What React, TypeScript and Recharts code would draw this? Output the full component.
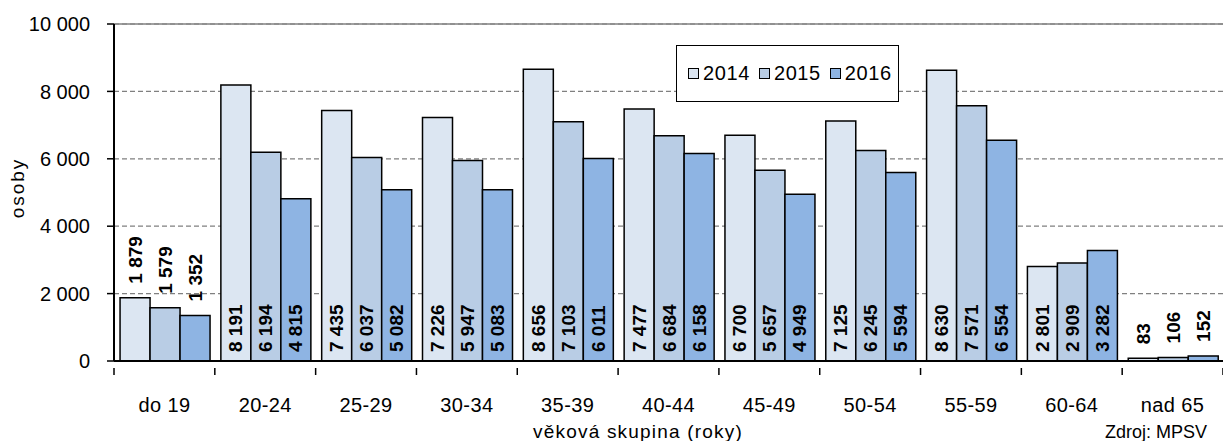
import React from 'react';
import { BarChart, Bar, XAxis, YAxis, CartesianGrid, ReferenceLine, LabelList } from 'recharts';

if (typeof document !== 'undefined') {
  document.body.style.margin = '0';
}

const categories = ['do 19', '20-24', '25-29', '30-34', '35-39', '40-44', '45-49', '50-54', '55-59', '60-64', 'nad 65'];
const values2014 = [1879, 8191, 7435, 7226, 8656, 7477, 6700, 7125, 8630, 2801, 83];
const values2015 = [1579, 6194, 6037, 5947, 7103, 6684, 5657, 6245, 7571, 2909, 106];
const values2016 = [1352, 4815, 5082, 5083, 6011, 6158, 4949, 5594, 6554, 3282, 152];
const seriesNames = ['2014', '2015', '2016'];
const seriesColors = ['#dce6f2', '#b9cde5', '#8eb4e3'];
const yTicks = [0, 2000, 4000, 6000, 8000, 10000];

const data = categories.map((c, i) => ({
  cat: c,
  s2014: values2014[i],
  s2015: values2015[i],
  s2016: values2016[i],
}));
const keys = ['s2014', 's2015', 's2016'];

const FONT = '"Liberation Sans", Arial, sans-serif';

const fmt = (n: number | string) => String(n).replace(/\B(?=(\d{3})+(?!\d))/g, '\u00a0');

const BarLabel = (props: any) => {
  const { x, y, width, height, value } = props;
  const v = Number(value);
  const cx = Number(x) + Number(width) / 2;
  const inside = v >= 2000;
  const ty = inside ? Number(y) + Number(height) - 9 : Number(y) - 14;
  return (
    <text
      x={cx}
      y={ty}
      transform={`rotate(-90 ${cx} ${ty})`}
      textAnchor="start"
      dominantBaseline="central"
      fontWeight="bold"
      fontSize={19}
      fontFamily={FONT}
      fill="#000"
    >
      {fmt(v)}
    </text>
  );
};

const XTick = (props: any) => {
  const { x, y, payload, index, visibleTicksCount, width } = props;
  const half = payload && payload.offset ? payload.offset : width / visibleTicksCount / 2;
  const left = x - half;
  const right = x + half;
  return (
    <g>
      <line x1={left} x2={left} y1={y - 1} y2={y + 6} stroke="#000" strokeWidth={1.5} />
      {index === visibleTicksCount - 1 && (
        <line x1={right} x2={right} y1={y - 1} y2={y + 6} stroke="#000" strokeWidth={1.5} />
      )}
      <text x={x} y={y + 36} textAnchor="middle" dominantBaseline="central" fontSize={20} letterSpacing={0.4} fontFamily={FONT} fill="#000">
        {payload.value}
      </text>
    </g>
  );
};

const LegendBox = () => (
  <div
    style={{
      position: 'absolute',
      left: 676,
      top: 45,
      width: 223,
      height: 57,
      border: '1.5px solid #000',
      background: '#fff',
      boxSizing: 'border-box',
      display: 'flex',
      alignItems: 'center',
      paddingLeft: 11,
      fontFamily: FONT,
      fontSize: 20,
      letterSpacing: 0.6,
      color: '#000',
    }}
  >
    {seriesNames.map((n, i) => (
      <div key={n} style={{ display: 'flex', alignItems: 'center', marginRight: 9 }}>
        <div style={{ width: 11, height: 11, background: seriesColors[i], border: '1.2px solid #000', boxSizing: 'border-box', marginRight: 4 }} />
        <span>{n}</span>
      </div>
    ))}
  </div>
);

export default function App() {
  return (
    <div style={{ position: 'relative', width: 1223, height: 441, background: '#fff', fontFamily: FONT, overflow: 'hidden' }}>
      <BarChart
        width={1223}
        height={441}
        data={data}
        margin={{ top: 24, right: 0, bottom: 0, left: 0 }}
        barCategoryGap="6%"
        barGap={0}
      >
        <CartesianGrid vertical={false} stroke="#808080" strokeDasharray="5 3" strokeWidth={1.2} />
        <ReferenceLine y={10000} stroke="#808080" strokeWidth={1.5} />
        <XAxis
          dataKey="cat"
          interval={0}
          tickLine={false}
          axisLine={{ stroke: '#000', strokeWidth: 2 }}
          tick={<XTick />}
          height={80}
        />
        <YAxis
          width={114}
          domain={[0, 10000]}
          ticks={yTicks}
          tickFormatter={fmt}
          axisLine={{ stroke: '#000', strokeWidth: 2 }}
          tickLine={{ stroke: '#000', strokeWidth: 1.5 }}
          tickSize={7}
          tickMargin={17}
          tick={{ fontSize: 20, fill: '#000', fontFamily: FONT }}
        />
        {keys.map((k, i) => (
          <Bar key={k} dataKey={k} name={seriesNames[i]} fill={seriesColors[i]} stroke="#000" strokeWidth={1.5} isAnimationActive={false}>
            <LabelList dataKey={k} content={<BarLabel />} />
          </Bar>
        ))}
      </BarChart>
      <LegendBox />
      <div
        style={{
          position: 'absolute',
          left: 17,
          top: 188,
          transform: 'translate(-50%, -50%) rotate(-90deg)',
          fontSize: 19,
          letterSpacing: 2,
          lineHeight: 1,
          whiteSpace: 'nowrap',
          color: '#000',
        }}
      >
        osoby
      </div>
      <div
        style={{
          position: 'absolute',
          left: 638,
          top: 431,
          transform: 'translate(-50%, -50%)',
          fontSize: 19,
          letterSpacing: 1.2,
          lineHeight: 1,
          whiteSpace: 'nowrap',
          color: '#000',
        }}
      >
        věková skupina (roky)
      </div>
      <div
        style={{
          position: 'absolute',
          left: 1105,
          top: 432,
          transform: 'translateY(-50%)',
          fontSize: 18,
          lineHeight: 1,
          whiteSpace: 'nowrap',
          color: '#000',
        }}
      >
        Zdroj: MPSV
      </div>
    </div>
  );
}
